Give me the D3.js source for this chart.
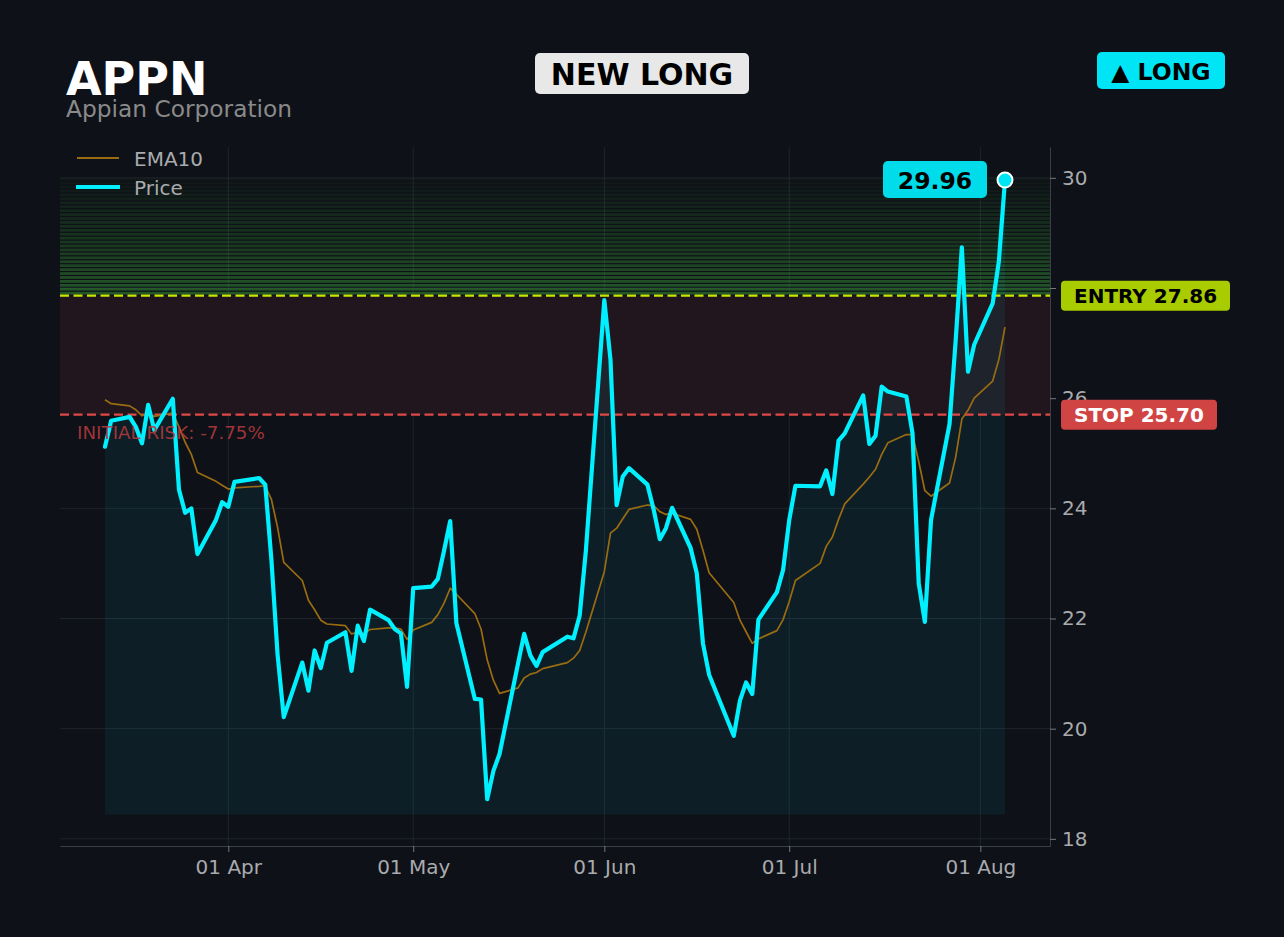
<!DOCTYPE html>
<html><head><meta charset="utf-8">
<script src="https://cdn.jsdelivr.net/npm/d3@7/dist/d3.min.js"></script>
<style>
html,body{margin:0;padding:0;background:#0e1117;}
svg{display:block;}
text{font-family:"DejaVu Sans",sans-serif;}
</style></head>
<body>
<svg id="chart" width="1284" height="937"></svg>
<script>
// ---- data (2026 trading days) ----
const marDays = [12,13,16,17,18,19,20,23,24,25,26,27,30,31];
const aprDays = [1,2,6,7,8,9,10,13,14,15,16,17,20,21,22,23,24,27,28,29,30];
const mayDays = [1,4,5,6,7,8,11,12,13,14,15,18,19,20,21,22,26,27,28,29];
const junDays = [1,2,3,4,5,8,9,10,11,12,15,16,17,18,22,23,24,25,26,29,30];
const julDays = [1,2,6,7,8,9,10,13,14,15,16,17,20,21,22,23,24,27,28,29,30,31];
const augDays = [3,4,5];

const price = [
  25.12,25.59,25.66,25.48,25.18,25.88,25.42,25.99,24.34,23.92,24.00,23.17,23.79,24.11,
  24.03,24.48,24.55,24.43,23.06,21.34,20.21,21.20,20.69,21.42,21.10,21.56,21.75,21.05,21.87,21.59,22.16,21.97,21.81,21.73,20.76,
  22.55,22.58,22.72,23.23,23.77,21.92,20.54,20.53,18.72,19.23,19.54,21.18,21.72,21.33,21.14,21.39,21.67,21.64,22.05,23.22,
  27.78,26.70,24.06,24.58,24.73,24.43,23.98,23.44,23.64,24.01,23.28,22.82,21.55,20.98,19.87,20.51,20.84,20.63,21.98,22.48,22.88,
  23.79,24.41,24.40,24.69,24.26,25.23,25.36,26.05,25.17,25.32,26.21,26.12,26.03,25.36,22.64,21.94,23.79,25.53,27.05,28.74,26.48,26.97,
  27.72,28.48,29.96
];
const ema10 = [
  25.97,25.90,25.86,25.79,25.68,25.72,25.67,25.73,25.48,25.20,24.98,24.65,24.49,24.42,
  24.35,24.37,24.40,24.41,24.16,23.65,23.02,22.69,22.33,22.16,21.97,21.90,21.87,21.72,21.75,21.72,21.80,21.83,21.83,21.81,21.62,
  21.79,21.93,22.07,22.28,22.55,22.44,22.09,21.81,21.25,20.88,20.64,20.74,20.92,20.99,21.02,21.09,21.20,21.28,21.42,21.75,
  22.85,23.55,23.64,23.81,23.98,24.06,24.05,23.94,23.89,23.91,23.80,23.62,23.24,22.83,22.29,21.97,21.76,21.55,21.63,21.78,21.98,
  22.31,22.69,23.00,23.31,23.48,23.80,24.08,24.44,24.57,24.71,24.98,25.19,25.34,25.34,24.85,24.32,24.22,24.46,24.93,25.62,25.78,26.00,
  26.31,26.70,27.29
];
const yTicks = [18,20,22,24,26,28,30];
const xTickLabels = ["2026-04-01","2026-05-01","2026-06-01","2026-07-01","2026-08-01"];
const entryPrice = 27.86;
const stopPrice = 25.70;
const targetTop = 30.0;
const fillBase = 18.44;
const yDomain = [17.87, 30.56];
const ticker = "APPN";
const company = "Appian Corporation";
const riskText = "INITIAL RISK: -7.75%";

// ---- build dates ----
const monthLists = [[2,marDays],[3,aprDays],[4,mayDays],[5,junDays],[6,julDays],[7,augDays]];
const dates = [];
monthLists.forEach(([m,list]) => list.forEach(d => dates.push(new Date(2026,m,d))));
const rows = dates.map((d,i) => ({date:d, price:price[i], ema:ema10[i]}));

// ---- layout ----
const L = 60, R = 1050, T = 147, B = 846;
const svg = d3.select("#chart");
svg.append("rect").attr("width",1284).attr("height",937).attr("fill","#0e1117");

const ext = d3.extent(dates);
const pad = (ext[1]-ext[0])*0.05;
const x = d3.scaleTime().domain([new Date(+ext[0]-pad), new Date(+ext[1]+pad)]).range([L,R]);
const y = d3.scaleLinear().domain(yDomain).range([B,T]);
const monthTicks = xTickLabels.map(s => d3.timeParse("%Y-%m-%d")(s));

// grid
const grid = svg.append("g");
grid.selectAll("line.h").data(yTicks).join("line")
  .attr("x1",L).attr("x2",R).attr("y1",d=>y(d)).attr("y2",d=>y(d))
  .attr("stroke","#1f252d").attr("stroke-width",1);
grid.selectAll("line.v").data(monthTicks).join("line")
  .attr("x1",d=>x(d)).attr("x2",d=>x(d)).attr("y1",T).attr("y2",B)
  .attr("stroke","#1f252d").attr("stroke-width",1);

// target zone stripes
const nStripes = 30;
const zTop = y(targetTop), zBot = y(entryPrice);
const sh = (zBot - zTop)/nStripes;
const zone = svg.append("g");
d3.range(nStripes).forEach(i => {
  const t = (i+1)/nStripes;
  zone.append("rect")
    .attr("x",L).attr("width",R-L)
    .attr("y", zTop + i*sh).attr("height", sh*0.7)
    .attr("fill","#3caa3c").attr("fill-opacity", 0.04 + 0.42*Math.pow(t,1.2));
});
// risk zone
svg.append("rect").attr("x",L).attr("width",R-L)
  .attr("y",y(entryPrice)).attr("height",y(stopPrice)-y(entryPrice))
  .attr("fill","#21161d");

// price fill
const area = d3.area().x(d=>x(d.date)).y0(y(fillBase)).y1(d=>y(d.price));
svg.append("path").datum(rows).attr("d",area).attr("fill","#00e5ff").attr("fill-opacity",0.065);

// axes
const yAxis = svg.append("g").attr("transform",`translate(${R},0)`)
  .call(d3.axisRight(y).tickValues(yTicks).tickSize(6).tickSizeOuter(0).tickPadding(6));
yAxis.select(".domain").attr("stroke","#3a3f47");
yAxis.selectAll(".tick line").attr("stroke","#777");
yAxis.selectAll(".tick text").attr("fill","#a9abae").attr("font-size",20).attr("font-family","DejaVu Sans");

const xAxis = svg.append("g").attr("transform",`translate(0,${B})`)
  .call(d3.axisBottom(x).tickValues(monthTicks).tickFormat(d3.timeFormat("%d %b")).tickSize(6).tickSizeOuter(0).tickPadding(8));
xAxis.select(".domain").attr("stroke","#3a3f47");
xAxis.selectAll(".tick line").attr("stroke","#777");
xAxis.selectAll(".tick text").attr("fill","#a9abae").attr("font-size",20).attr("font-family","DejaVu Sans");

// entry / stop lines
svg.append("line").attr("x1",L).attr("x2",R).attr("y1",y(entryPrice)).attr("y2",y(entryPrice))
  .attr("stroke","#c8e600").attr("stroke-width",2.2).attr("stroke-dasharray","9,4.5");
svg.append("line").attr("x1",L).attr("x2",R).attr("y1",y(stopPrice)).attr("y2",y(stopPrice))
  .attr("stroke","#e04848").attr("stroke-width",2.2).attr("stroke-dasharray","9,4.5");

// EMA line
const emaLine = d3.line().x(d=>x(d.date)).y(d=>y(d.ema));
svg.append("path").datum(rows).attr("d",emaLine).attr("fill","none")
  .attr("stroke","#9a6c12").attr("stroke-width",1.7).attr("stroke-linejoin","round");

// price line
const priceLine = d3.line().x(d=>x(d.date)).y(d=>y(d.price));
svg.append("path").datum(rows).attr("d",priceLine).attr("fill","none")
  .attr("stroke","#00f0ff").attr("stroke-width",4.2).attr("stroke-linejoin","round").attr("stroke-linecap","round");

// last point
const last = rows[rows.length-1];
svg.append("circle").attr("cx",x(last.date)).attr("cy",y(last.price)).attr("r",7.5)
  .attr("fill","#00e5f5").attr("stroke","#ffffff").attr("stroke-width",2);

// last price label
const lx = x(last.date) - 18, ly = y(last.price);
svg.append("rect").attr("x",lx-104).attr("y",ly-19).attr("width",104).attr("height",37).attr("rx",5)
  .attr("fill","#00dcea");
svg.append("text").attr("x",lx-52).attr("y",ly+8.5).attr("text-anchor","middle")
  .attr("font-size",23.5).attr("font-weight","bold").attr("fill","#000").text(last.price.toFixed(2));

// entry / stop labels
svg.append("rect").attr("x",1061).attr("y",y(entryPrice)-15).attr("width",169).attr("height",30).attr("rx",4)
  .attr("fill","#a8cc00");
svg.append("text").attr("x",1074).attr("y",y(entryPrice)+7.5).attr("font-size",20).attr("font-weight","bold")
  .attr("fill","#000").text("ENTRY " + entryPrice.toFixed(2));
svg.append("rect").attr("x",1061).attr("y",y(stopPrice)-15).attr("width",156).attr("height",30).attr("rx",4)
  .attr("fill","#d04444");
svg.append("text").attr("x",1074).attr("y",y(stopPrice)+7.5).attr("font-size",20).attr("font-weight","bold")
  .attr("fill","#fff").text("STOP " + stopPrice.toFixed(2));

// initial risk text
svg.append("text").attr("x",77).attr("y",y(stopPrice)+24).attr("font-size",18.3)
  .attr("fill","#b3393d").attr("fill-opacity",0.9).text(riskText);

// legend
svg.append("line").attr("x1",77).attr("x2",119).attr("y1",158).attr("y2",158).attr("stroke","#9a6c12").attr("stroke-width",2);
svg.append("text").attr("x",134).attr("y",165.5).attr("font-size",20).attr("fill","#a9abae").text("EMA10");
svg.append("line").attr("x1",76).attr("x2",120).attr("y1",187).attr("y2",187).attr("stroke","#00f0ff").attr("stroke-width",4);
svg.append("text").attr("x",134).attr("y",194.5).attr("font-size",20).attr("fill","#a9abae").text("Price");

// titles
svg.append("text").attr("x",66).attr("y",95).attr("font-size",46).attr("font-weight","bold").attr("fill","#ffffff").text(ticker);
svg.append("text").attr("x",66).attr("y",116.5).attr("font-size",23.3).attr("fill","#8a8a8a").text(company);

// NEW LONG badge
svg.append("rect").attr("x",535).attr("y",53).attr("width",214).attr("height",41).attr("rx",5).attr("fill","#e8e8e8");
svg.append("text").attr("x",642).attr("y",84.5).attr("text-anchor","middle").attr("font-size",30).attr("font-weight","bold")
  .attr("fill","#000").text("NEW LONG");

// LONG badge
svg.append("rect").attr("x",1097).attr("y",52).attr("width",128).attr("height",37).attr("rx",5).attr("fill","#00e5f5");
svg.append("text").attr("x",1161).attr("y",79.5).attr("text-anchor","middle").attr("font-size",23.5).attr("font-weight","bold")
  .attr("fill","#000").text("▲ LONG");
</script>
</body></html>
